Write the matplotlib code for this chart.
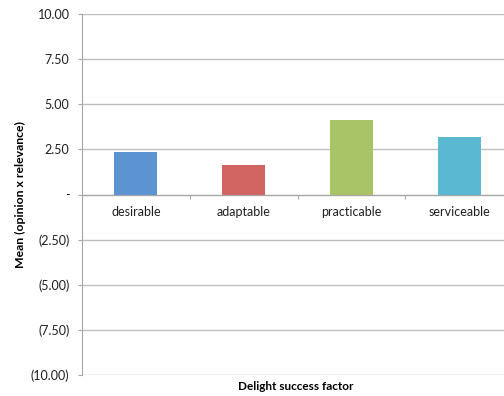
import matplotlib.pyplot as plt
from matplotlib.ticker import FuncFormatter

# Mean score per delight success factor
factors = ['desirable', 'adaptable', 'practicable', 'serviceable']
means = [2.35, 1.61, 4.10, 3.20]
colors = ['#5B94D0', '#D26461', '#A9C466', '#5BB8D2']

plt.rcParams['font.family'] = ['Lato', 'DejaVu Sans']

fig = plt.figure(figsize=(5.04, 3.96), dpi=100)
# the plot area runs a little past the right edge
ax = fig.add_axes([82 / 504, 21 / 396, 431 / 504, 361 / 396])

x = range(len(factors))
ax.bar(x, means, width=0.4, color=colors, zorder=3)

ax.set_xlim(-0.5, len(factors) - 0.5)
ax.set_ylim(-10, 10)
ax.set_yticks([-10, -7.5, -5, -2.5, 0, 2.5, 5, 7.5, 10])


def fmt(v, pos):
    if abs(v) < 1e-9:
        return '-'
    if v < 0:
        return '({:.2f})'.format(-v)
    return '{:.2f}'.format(v)


ax.yaxis.set_major_formatter(FuncFormatter(fmt))
ax.grid(axis='y', color='#BEBEBE', linewidth=1, zorder=0)

for s in ['top', 'right']:
    ax.spines[s].set_visible(False)
ax.spines['left'].set_color('#A6A6A6')
ax.spines['bottom'].set_position(('data', 0))
ax.spines['bottom'].set_color('#A6A6A6')
ax.spines['bottom'].set_zorder(4)

# category labels under the zero line, ticks at the boundaries
ax.set_xticks([i + 0.5 for i in range(len(factors) - 1)])
ax.set_xticklabels([])
ax.set_xticks(list(x), minor=True)
ax.set_xticklabels(factors, minor=True)
ax.tick_params(axis='x', which='major', length=3, color='#A6A6A6', direction='out')
ax.tick_params(axis='x', which='minor', length=0, pad=8, labelsize=9, labelcolor='#1F1F1F')
ax.tick_params(axis='y', length=3, color='#A6A6A6', labelsize=9, labelcolor='#1F1F1F', pad=6)

ax.set_ylabel('Mean (opinion x relevance)', fontsize=8.8, fontweight='bold')
ax.yaxis.set_label_coords(-56 / 431, 0.5)
fig.text(296 / 504, 1 - 386 / 396, 'Delight success factor', ha='center', va='center',
         fontsize=8.5, fontweight='bold')

fig.savefig('out.png', dpi=100)
